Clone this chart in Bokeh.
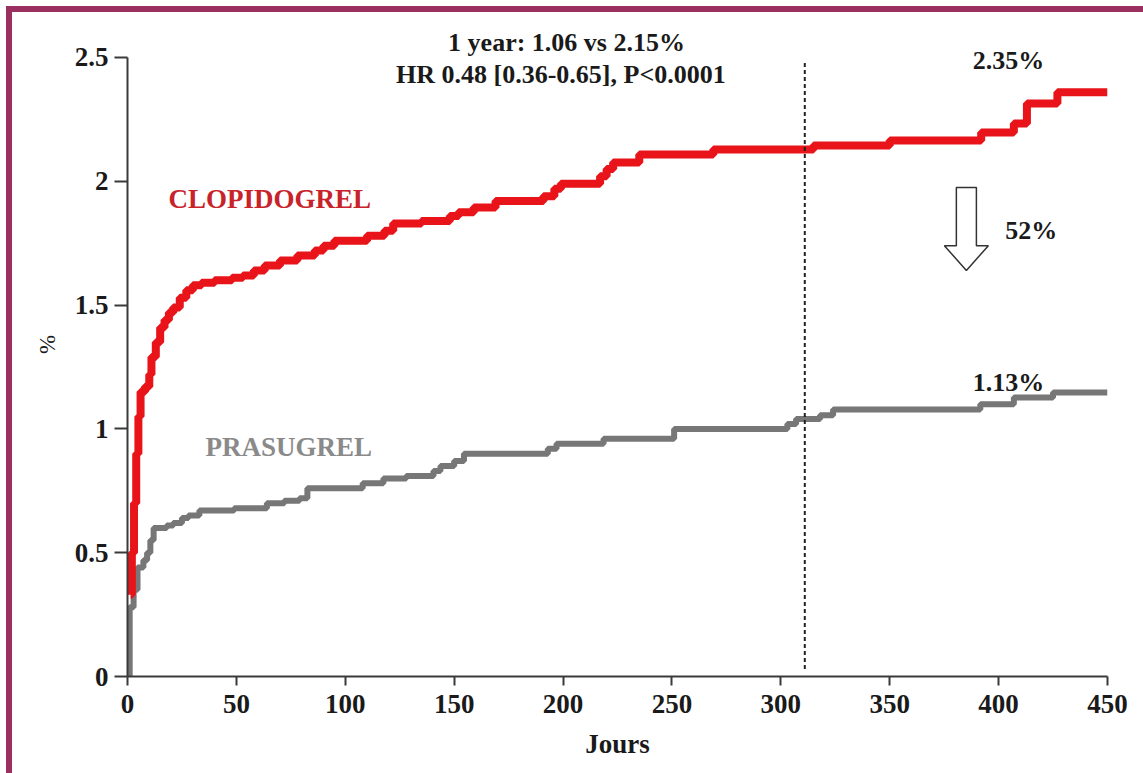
from bokeh.plotting import figure
from bokeh.models import Range1d, FixedTicker, Label
from bokeh.layouts import column
from bokeh.embed import file_html
from bokeh.resources import INLINE

# ---- data ----
clop_days = [1.5, 2, 3, 4, 5, 6, 8, 10, 11, 13, 15, 17, 19, 21, 24, 27, 30, 34, 40, 48,
             53, 58, 63, 70, 78, 86, 90, 95, 110, 118, 122, 135, 148, 152, 159, 169,
             191, 196, 199, 217, 220, 223, 235, 269, 315, 350, 392, 407, 413, 427, 450]
clop_pct = [0.33, 0.5, 0.7, 0.9, 1.05, 1.15, 1.17, 1.22, 1.29, 1.35, 1.41, 1.44, 1.47, 1.49,
            1.53, 1.56, 1.58, 1.59, 1.60, 1.61, 1.62, 1.64, 1.66, 1.68, 1.70, 1.72, 1.74,
            1.76, 1.78, 1.80, 1.83, 1.84, 1.86, 1.875, 1.894, 1.92, 1.94, 1.97, 1.99,
            2.02, 2.05, 2.076, 2.108, 2.128, 2.145, 2.165, 2.197, 2.233, 2.314, 2.36, 2.36]

pras_days = [1, 1, 2.8, 4.6, 7.3, 9, 10.5, 12, 18, 21, 25, 28, 33, 49, 64, 72, 79, 82.6,
             108, 117.5, 128, 140.5, 143.7, 150, 154.5, 193, 197, 218.6, 251, 303, 307,
             318, 324, 391.6, 407, 425, 450]
pras_pct = [0.0, 0.28, 0.35, 0.44, 0.47, 0.50, 0.55, 0.60, 0.61, 0.62, 0.64, 0.65, 0.67,
            0.68, 0.70, 0.71, 0.72, 0.76, 0.78, 0.80, 0.81, 0.83, 0.85, 0.87, 0.90, 0.92,
            0.94, 0.96, 1.00, 1.02, 1.04, 1.055, 1.078, 1.10, 1.127, 1.147, 1.147]

x_ticks = [0, 50, 100, 150, 200, 250, 300, 350, 400, 450]
y_ticks = [0, 0.5, 1, 1.5, 2, 2.5]
y_tick_labels = ["0", "0.5", "1", "1.5", "2", "2.5"]

landmark_day = 311
arrow_x = 385.2

SERIF = "Liberation Serif"
FRAME = "#9b3060"

p = figure(width=1131, height=761, output_backend="svg", toolbar_location=None,
           x_range=Range1d(0, 450), y_range=Range1d(0, 2.6817),
           min_border_left=115, min_border_right=36, min_border_top=0,
           min_border_bottom=97, background_fill_color="white",
           border_fill_color="white")
p.outline_line_color = None
p.grid.visible = False

# axes
for ax in (p.xaxis[0], p.yaxis[0]):
    ax.axis_line_color = "#3a3a3a"
    ax.axis_line_width = 2
    ax.major_tick_line_color = "#3a3a3a"
    ax.major_tick_line_width = 2
    ax.minor_tick_line_color = None
    ax.major_tick_in = 0
    ax.major_label_text_font = SERIF
    ax.major_label_text_font_style = "bold"
    ax.major_label_text_font_size = "27px"
    ax.major_label_text_color = "#1a1a1a"

p.xaxis.ticker = FixedTicker(ticks=x_ticks)
p.xaxis.major_tick_out = 9
p.xaxis.major_label_standoff = 9
p.xaxis.axis_label = "Jours"
p.xaxis.axis_label_text_font = SERIF
p.xaxis.axis_label_text_font_style = "bold"
p.xaxis.axis_label_text_font_size = "27px"
p.xaxis.axis_label_text_color = "#1a1a1a"
p.xaxis.axis_label_standoff = 13

p.yaxis.ticker = FixedTicker(ticks=y_ticks)
p.yaxis.bounds = (0, 2.5)
p.yaxis.major_label_overrides = {t: l for t, l in zip(y_ticks, y_tick_labels)}
p.yaxis.major_tick_out = 13
p.yaxis.major_label_standoff = 6
p.yaxis.axis_label = "%"
p.yaxis.axis_label_text_font = SERIF
p.yaxis.axis_label_text_font_style = "normal"
p.yaxis.axis_label_text_font_size = "23px"
p.yaxis.axis_label_text_color = "#1a1a1a"
p.yaxis.axis_label_standoff = 12

# curves
p.step(x=pras_days, y=pras_pct, mode="after", line_color="#777777", line_width=6)
p.step(x=clop_days, y=clop_pct, mode="after", line_color="#e8141a", line_width=8)

# landmark dashed line
p.segment(x0=[landmark_day], y0=[0.03], x1=[landmark_day], y1=[2.48],
          line_color="#222222", line_width=2, line_dash="4 3")

# hollow arrow
aw, hw = 4.6, 10.1
p.patch(x=[arrow_x - aw, arrow_x + aw, arrow_x + aw, arrow_x + hw, arrow_x,
           arrow_x - hw, arrow_x - aw],
        y=[1.975, 1.975, 1.74, 1.74, 1.64, 1.74, 1.74],
        fill_color="white", line_color="#333333", line_width=1.5)

def lab(x, y, text, color="#1a1a1a", size="26px", align="center"):
    p.add_layout(Label(x=x, y=y, text=text, text_font=SERIF, text_font_style="bold",
                       text_font_size=size, text_color=color, text_align=align,
                       text_baseline="middle"))

lab(201.6, 2.56, "1 year: 1.06 vs 2.15%")
lab(199.0, 2.43, "HR 0.48 [0.36-0.65], P<0.0001")
lab(404.5, 2.488, "2.35%")
lab(415.0, 1.80, "52%")
lab(404.5, 1.187, "1.13%")
lab(18.8, 1.93, "CLOPIDOGREL", color="#c8232b", size="27px", align="left")
lab(35.8, 0.925, "PRASUGREL", color="#8a8a8a", size="27px", align="left")

layout = column(p, styles={"border-top": "6px solid " + FRAME,
                           "border-left": "6px solid " + FRAME,
                           "margin-top": "6px", "margin-left": "6px"})

open("out.html", "w").write(file_html(layout, INLINE))
